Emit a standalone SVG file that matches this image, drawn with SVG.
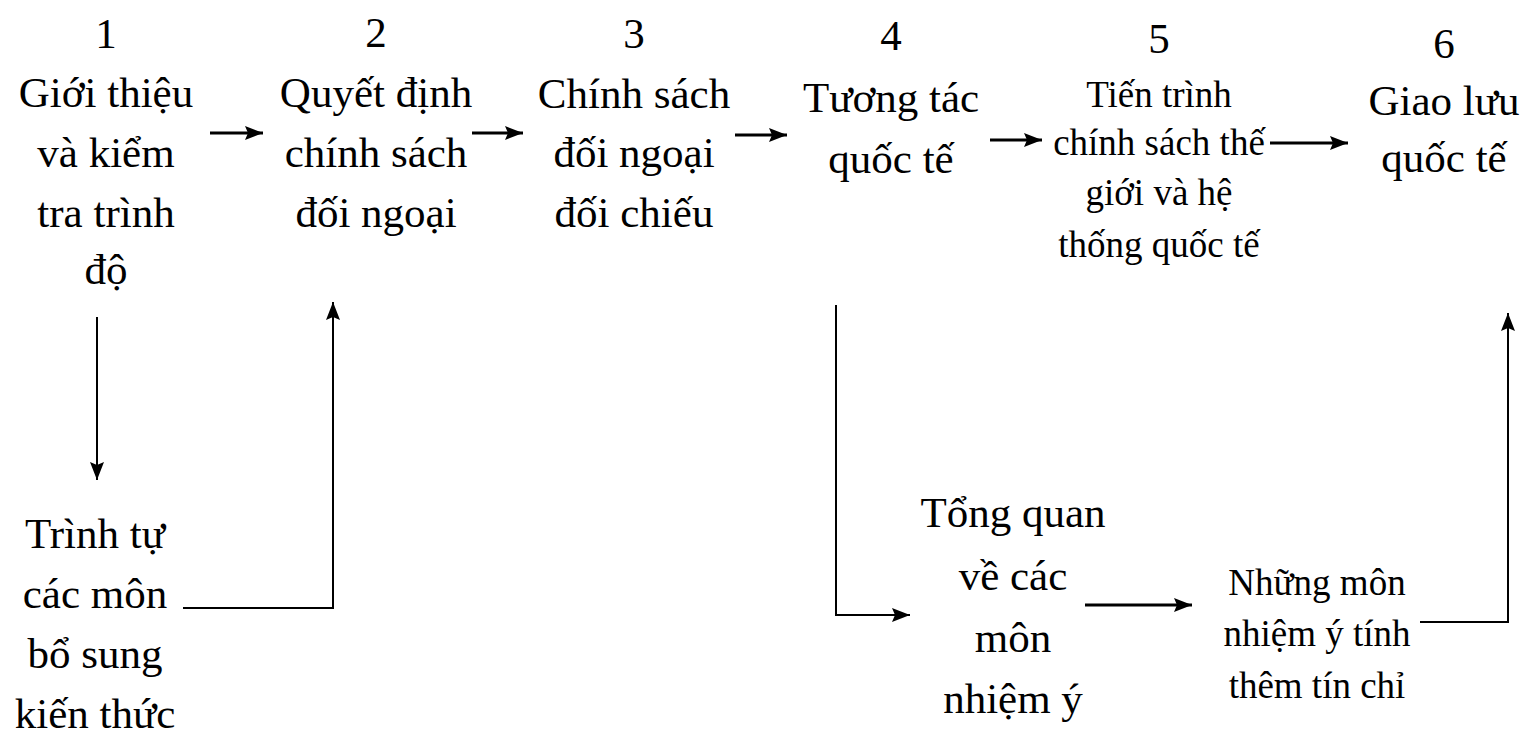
<svg xmlns="http://www.w3.org/2000/svg" width="1537" height="736" viewBox="0 0 1537 736">
<style>
text{font-family:"Liberation Serif","Times New Roman",serif;fill:#000;text-anchor:middle}
.big{font-size:43px}
.sm{font-size:37px}
.c{stroke:#000;fill:none}
.h{stroke-width:3}
.v{stroke-width:2}
</style>
<defs>
<marker id="ah" markerUnits="userSpaceOnUse" markerWidth="19" markerHeight="16" refX="18" refY="8" orient="auto">
<path d="M0,1 L18,8 L0,15 L3,8 z" fill="#000"/>
</marker>
</defs>
<rect width="1537" height="736" fill="#fff"/>
<g id="n1" class="big">
<text x="106" y="48">1</text>
<text x="106" y="107">Giới thiệu</text>
<text x="106" y="167">và kiểm</text>
<text x="106" y="227">tra trình</text>
<text x="106" y="284">độ</text>
</g>
<g id="n2" class="big">
<text x="376" y="47">2</text>
<text x="376" y="107">Quyết định</text>
<text x="376" y="167">chính sách</text>
<text x="376" y="227">đối ngoại</text>
</g>
<g id="n3" class="big">
<text x="634" y="48">3</text>
<text x="634" y="108">Chính sách</text>
<text x="634" y="167">đối ngoại</text>
<text x="634" y="227">đối chiếu</text>
</g>
<g id="n4" class="big">
<text x="891" y="50">4</text>
<text x="891" y="112">Tương tác</text>
<text x="891" y="173">quốc tế</text>
</g>
<g id="n5">
<text class="big" x="1159" y="53">5</text>
<text class="sm" x="1159" y="107">Tiến trình</text>
<text class="sm" x="1159" y="155">chính sách thế</text>
<text class="sm" x="1159" y="205">giới và hệ</text>
<text class="sm" x="1159" y="257">thống quốc tế</text>
</g>
<g id="n6" class="big">
<text x="1444" y="58">6</text>
<text x="1444" y="115">Giao lưu</text>
<text x="1444" y="172">quốc tế</text>
</g>
<g id="n7" class="big">
<text x="95" y="548">Trình tự</text>
<text x="95" y="608">các môn</text>
<text x="95" y="668">bổ sung</text>
<text x="95" y="728">kiến thức</text>
</g>
<g id="n8" class="big">
<text x="1013" y="527">Tổng quan</text>
<text x="1013" y="590">về các</text>
<text x="1013" y="652">môn</text>
<text x="1013" y="713">nhiệm ý</text>
</g>
<g id="n9" class="sm">
<text x="1317" y="595">Những môn</text>
<text x="1317" y="646">nhiệm ý tính</text>
<text x="1317" y="698">thêm tín chỉ</text>
</g>
<g id="connectors">
<line class="c h" x1="210" y1="133" x2="263" y2="133" marker-end="url(#ah)"/>
<line class="c h" x1="472" y1="133" x2="523" y2="133" marker-end="url(#ah)"/>
<line class="c h" x1="735" y1="135" x2="787" y2="135" marker-end="url(#ah)"/>
<line class="c h" x1="990" y1="140" x2="1042" y2="140" marker-end="url(#ah)"/>
<line class="c h" x1="1270" y1="143" x2="1348" y2="143" marker-end="url(#ah)"/>
<line class="c v" x1="97" y1="317" x2="97" y2="480" marker-end="url(#ah)"/>
<polyline class="c v" points="183,608 333,608 333,302" marker-end="url(#ah)"/>
<polyline class="c v" points="836,305 836,615 910,615" marker-end="url(#ah)"/>
<line class="c h" x1="1085" y1="605" x2="1192" y2="605" marker-end="url(#ah)"/>
<polyline class="c v" points="1420,622 1508,622 1508,313" marker-end="url(#ah)"/>
</g>
</svg>
